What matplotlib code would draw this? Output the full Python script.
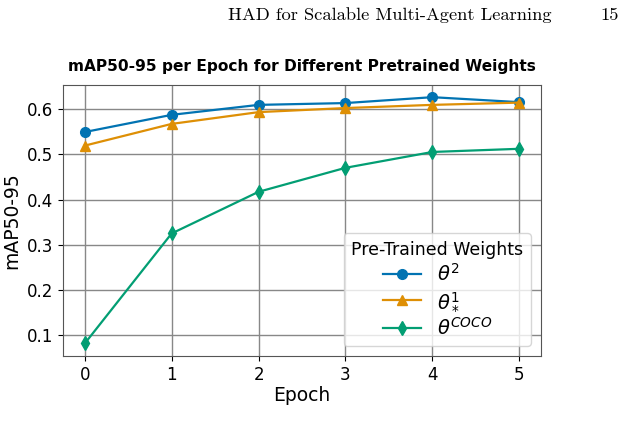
import matplotlib.pyplot as plt

epochs = [0, 1, 2, 3, 4, 5]
theta2 = [0.549, 0.587, 0.609, 0.613, 0.626, 0.615]
theta1_star = [0.519, 0.567, 0.593, 0.602, 0.609, 0.614]
theta_coco = [0.082, 0.325, 0.417, 0.470, 0.505, 0.512]
labels = [r"$\theta^2$", r"$\theta^1_*$", r"$\theta^{COCO}$"]
colors = ["#0173B2", "#DE8F05", "#029E73"]
markers = ["o", "^", "d"]

fig = plt.figure(figsize=(6.24, 4.42), dpi=100)
ax = fig.add_axes([0.101, 0.195, 0.766, 0.613])

for vals, lab, c, m in zip([theta2, theta1_star, theta_coco], labels, colors, markers):
    ax.plot(epochs, vals, color=c, marker=m, markersize=7, linewidth=1.6, label=lab)

ax.set_title("mAP50-95 per Epoch for Different Pretrained Weights",
             fontsize=11.1, fontweight="bold", pad=10)
ax.set_xlabel("Epoch", fontsize=13.5, labelpad=2)
ax.set_ylabel("mAP50-95", fontsize=13.5, labelpad=4)
ax.tick_params(labelsize=12)
ax.set_xticks(epochs)
ax.grid(True, color="#888888", linewidth=1.0)
for s in ax.spines.values():
    s.set_color("#555555")
leg = ax.legend(title="Pre-Trained Weights", fontsize=14, title_fontsize=12.5,
                loc="lower right", borderpad=0.4, labelspacing=0.25)

# page header from the paper
fig.text(0.365, 0.965, "HAD for Scalable Multi-Agent Learning", family="cmr10",
         fontsize=13.3, va="center")
fig.text(0.962, 0.965, "15", family="cmr10", fontsize=13.3, va="center")

fig.savefig("out.png", dpi=100)
